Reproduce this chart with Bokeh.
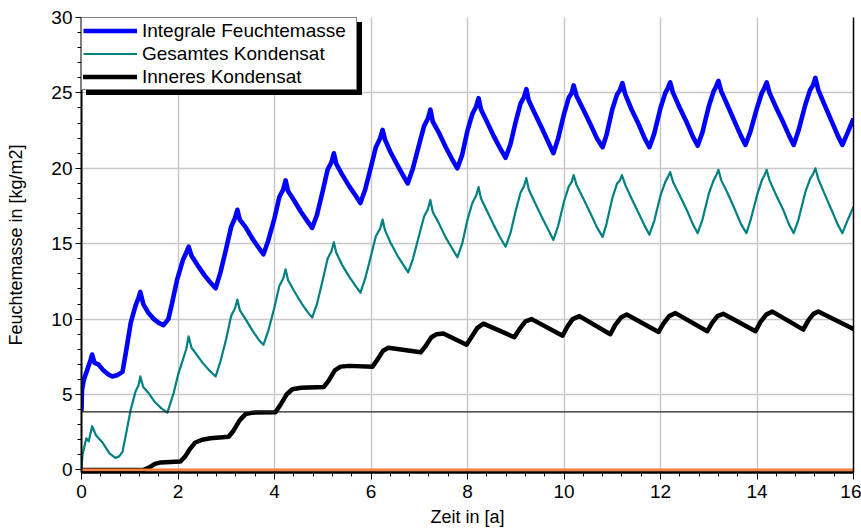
from bokeh.plotting import figure
from bokeh.models import (Range1d, LinearAxis, Legend, LegendItem, Span,
                          SingleIntervalTicker, FixedTicker)
from bokeh.embed import file_html
from bokeh.resources import INLINE

# ---- data ----
blue_t = [0, 0.01, 0.05, 0.12, 0.18, 0.22, 0.27, 0.35, 0.44, 0.55, 0.64, 0.75, 0.85, 0.92,
          1.02, 1.12, 1.18, 1.22, 1.28, 1.39, 1.5, 1.6, 1.7, 1.8, 1.88, 1.98, 2.1, 2.17, 2.22,
          2.28, 2.4, 2.55, 2.68, 2.78,
          2.88, 3.0, 3.1, 3.18, 3.23, 3.28, 3.4, 3.55, 3.68, 3.77,
          3.87, 4.0, 4.1, 4.18, 4.23, 4.28, 4.4, 4.55, 4.68, 4.78,
          4.88, 5.0, 5.1, 5.18, 5.23, 5.28, 5.4, 5.55, 5.68, 5.78,
          5.88, 6.0, 6.1, 6.19, 6.24, 6.29, 6.4, 6.55, 6.67, 6.76,
          6.86, 7.0, 7.1, 7.18, 7.23, 7.28, 7.4, 7.55, 7.68, 7.79,
          7.89, 8.0, 8.1, 8.18, 8.23, 8.28, 8.4, 8.55, 8.68, 8.79,
          8.89, 9.0, 9.1, 9.17, 9.22, 9.27, 9.4, 9.55, 9.68, 9.78,
          9.88, 10.0, 10.1, 10.16, 10.2, 10.26, 10.4, 10.55, 10.68, 10.8,
          10.88, 11.0, 11.1, 11.16, 11.21, 11.27, 11.4, 11.55, 11.67, 11.77,
          11.87, 12.0, 12.1, 12.15, 12.2, 12.26, 12.4, 12.55, 12.67, 12.77,
          12.87, 13.0, 13.1, 13.15, 13.2, 13.26, 13.4, 13.55, 13.66, 13.76,
          13.86, 14.0, 14.1, 14.15, 14.2, 14.26, 14.4, 14.55, 14.66, 14.76,
          14.86, 15.0, 15.1, 15.16, 15.21, 15.27, 15.4, 15.55, 15.67, 15.77,
          15.87, 16.0]
blue_v = [3.9, 5.3, 6.0, 6.65, 7.2, 7.65, 7.1, 7.0, 6.65, 6.35, 6.2, 6.3, 6.5, 7.8,
          9.75, 10.9, 11.4, 11.8, 11.0, 10.4, 10.0, 9.75, 9.6, 10.0, 11.1, 12.6, 13.9, 14.4, 14.8,
          14.2, 13.6, 12.9, 12.4, 12.05,
          13.1, 14.7, 16.1, 16.7, 17.25, 16.6, 16.1, 15.3, 14.7, 14.3,
          15.2, 16.7, 18.1, 18.6, 19.2, 18.5, 17.9, 17.1, 16.5, 16.05,
          16.9, 18.5, 19.9, 20.4, 21.0, 20.3, 19.6, 18.8, 18.2, 17.7,
          18.6, 20.1, 21.4, 22.0, 22.55, 21.9, 21.1, 20.2, 19.5, 19.0,
          19.9, 21.6, 22.8, 23.3, 23.9, 23.1, 22.4, 21.4, 20.6, 20.0,
          20.9, 22.5, 23.6, 24.1, 24.65, 23.9, 23.1, 22.1, 21.3, 20.7,
          21.6, 23.1, 24.3, 24.7, 25.25, 24.5, 23.6, 22.6, 21.7, 21.0,
          22.0, 23.6, 24.7, 25.0, 25.5, 24.8, 23.9, 22.9, 22.0, 21.4,
          22.2, 23.9, 24.9, 25.2, 25.65, 24.9, 23.9, 22.9, 22.0, 21.4,
          22.3, 24.0, 25.0, 25.3, 25.7, 25.0, 24.0, 23.0, 22.1, 21.5,
          22.4, 24.1, 25.1, 25.4, 25.8, 25.1, 24.1, 23.0, 22.2, 21.55,
          22.4, 24.0, 25.0, 25.3, 25.7, 25.0, 24.0, 23.0, 22.2, 21.55,
          22.5, 24.2, 25.2, 25.5, 26.0, 25.2, 24.2, 23.1, 22.2, 21.55,
          22.3, 23.3]

teal_t = [0, 0.02, 0.05, 0.1, 0.15, 0.22, 0.3, 0.44, 0.58, 0.7, 0.78, 0.85, 0.93,
          1.02, 1.12, 1.18, 1.22, 1.28, 1.39, 1.52, 1.65, 1.78, 1.85, 1.91, 2.0, 2.1, 2.17, 2.22,
          2.28, 2.4, 2.51, 2.65, 2.78,
          2.88, 3.0, 3.1, 3.18, 3.23, 3.28, 3.4, 3.55, 3.68, 3.77,
          3.87, 4.0, 4.1, 4.18, 4.23, 4.28, 4.4, 4.55, 4.68, 4.78,
          4.88, 5.0, 5.1, 5.18, 5.23, 5.28, 5.4, 5.55, 5.68, 5.78,
          5.88, 6.0, 6.1, 6.19, 6.24, 6.29, 6.4, 6.55, 6.67, 6.77,
          6.87, 7.0, 7.1, 7.18, 7.23, 7.28, 7.4, 7.55, 7.68, 7.79,
          7.89, 8.0, 8.1, 8.18, 8.23, 8.28, 8.4, 8.55, 8.68, 8.79,
          8.89, 9.0, 9.1, 9.17, 9.22, 9.27, 9.4, 9.55, 9.68, 9.78,
          9.88, 10.0, 10.1, 10.16, 10.2, 10.26, 10.4, 10.55, 10.68, 10.8,
          10.88, 11.0, 11.1, 11.16, 11.2, 11.27, 11.4, 11.55, 11.67, 11.77,
          11.87, 12.0, 12.1, 12.15, 12.2, 12.26, 12.4, 12.55, 12.67, 12.77,
          12.87, 13.0, 13.1, 13.15, 13.2, 13.26, 13.4, 13.55, 13.67, 13.78,
          13.87, 14.0, 14.1, 14.15, 14.2, 14.26, 14.4, 14.55, 14.66, 14.76,
          14.86, 15.0, 15.1, 15.16, 15.21, 15.27, 15.4, 15.55, 15.67, 15.77,
          15.87, 16.0]
teal_v = [0.0, 1.0, 1.4, 2.1, 1.9, 2.9, 2.3, 1.8, 1.1, 0.8, 0.9, 1.2, 2.5,
          4.0, 5.2, 5.6, 6.2, 5.5, 5.1, 4.5, 4.1, 3.8, 4.5, 5.1, 6.3, 7.3, 8.0, 8.85,
          8.1, 7.6, 7.1, 6.6, 6.2,
          7.2, 8.7, 10.2, 10.7, 11.3, 10.6, 10.0, 9.2, 8.6, 8.3,
          9.2, 10.8, 12.2, 12.7, 13.3, 12.6, 11.9, 11.1, 10.5, 10.1,
          11.0, 12.6, 14.0, 14.5, 15.1, 14.4, 13.6, 12.8, 12.2, 11.75,
          12.7, 14.2, 15.5, 16.0, 16.6, 15.9, 15.1, 14.2, 13.6, 13.1,
          14.0, 15.6, 16.8, 17.3, 17.9, 17.1, 16.4, 15.4, 14.7, 14.1,
          15.0, 16.6, 17.7, 18.2, 18.75, 18.0, 17.2, 16.2, 15.4, 14.8,
          15.7, 17.2, 18.4, 18.8, 19.35, 18.6, 17.7, 16.7, 15.9, 15.25,
          16.2, 17.8, 18.8, 19.1, 19.55, 18.9, 18.0, 17.0, 16.1, 15.45,
          16.3, 18.0, 19.0, 19.2, 19.55, 18.9, 18.0, 17.0, 16.2, 15.6,
          16.5, 18.2, 19.1, 19.4, 19.75, 19.1, 18.2, 17.2, 16.3, 15.7,
          16.6, 18.3, 19.2, 19.5, 19.9, 19.2, 18.3, 17.2, 16.3, 15.7,
          16.6, 18.2, 19.2, 19.5, 19.9, 19.2, 18.2, 17.2, 16.3, 15.7,
          16.6, 18.4, 19.3, 19.6, 20.0, 19.3, 18.3, 17.2, 16.3, 15.7,
          16.5, 17.45]

black_t = [0, 1.29, 1.4, 1.52, 1.64, 2.05, 2.15, 2.25, 2.35, 2.5, 2.67, 3.05, 3.15, 3.28, 3.4,
           3.55, 4.02, 4.12, 4.25, 4.37, 4.55, 5.02, 5.12, 5.25, 5.37, 5.55, 6.03, 6.13, 6.25,
           6.36, 7.03, 7.13, 7.25, 7.36, 7.5, 7.98, 8.08, 8.2, 8.33, 8.97, 9.07, 9.2, 9.33,
           9.97, 10.07, 10.18, 10.32, 10.96, 11.06, 11.18, 11.3, 11.96, 12.06, 12.18, 12.31,
           12.97, 13.07, 13.18, 13.3, 13.97, 14.07, 14.19, 14.32, 14.96, 15.06, 15.17, 15.27,
           16.0]
black_v = [0, 0, 0.15, 0.4, 0.5, 0.56, 0.9, 1.4, 1.8, 2.0, 2.1, 2.2, 2.6, 3.3, 3.7,
           3.8, 3.82, 4.3, 5.0, 5.35, 5.45, 5.5, 5.9, 6.6, 6.85, 6.9, 6.85, 7.3, 7.9,
           8.1, 7.8, 8.2, 8.8, 9.0, 9.05, 8.3, 8.8, 9.4, 9.7, 8.8, 9.3, 9.85, 10.0,
           8.9, 9.5, 10.0, 10.2, 9.0, 9.6, 10.1, 10.3, 9.15, 9.7, 10.2, 10.4,
           9.2, 9.75, 10.2, 10.35, 9.2, 9.8, 10.3, 10.5, 9.3, 9.9, 10.35, 10.5,
           9.35]

orange_t = [0, 16]
orange_v = [0, 0]

threshold = 3.85

labels = ["Integrale Feuchtemasse", "Gesamtes Kondensat", "Inneres Kondensat"]
x_label = "Zeit in [a]"
y_label = "Feuchtemasse in [kg/m2]"

FONT = "Liberation Sans"

p = figure(width=861, height=529, x_range=Range1d(0, 16), y_range=Range1d(-0.17, 30),
           output_backend="svg", toolbar_location=None,
           min_border_left=81, min_border_right=8, min_border_top=17, min_border_bottom=56)
p.outline_line_color = None
p.background_fill_color = "white"
p.border_fill_color = "white"

xt = SingleIntervalTicker(interval=2, num_minor_ticks=5)
yt = SingleIntervalTicker(interval=5, num_minor_ticks=5)
p.xaxis.ticker = xt
p.yaxis.ticker = yt
p.xgrid.ticker = xt
p.ygrid.ticker = yt
for g in (p.xgrid[0], p.ygrid[0]):
    g.grid_line_color = "#c8c8c8"
    g.grid_line_width = 1.5

for ax in (p.xaxis[0], p.yaxis[0]):
    ax.axis_line_color = "black"
    ax.major_tick_line_color = "black"
    ax.minor_tick_line_color = "black"
    ax.major_tick_in = 0
    ax.minor_tick_in = 0
    ax.major_label_text_font = FONT
    ax.major_label_text_font_size = "19px"
    ax.major_label_text_color = "black"
    ax.axis_label_text_font = FONT
    ax.axis_label_text_font_size = "18px"
    ax.axis_label_text_font_style = "normal"
    ax.axis_label_text_color = "black"

p.xaxis.axis_line_width = 2.5
p.xaxis.major_tick_out = 7
p.xaxis.minor_tick_out = 4
p.xaxis.major_label_standoff = 5
p.xaxis.axis_label_standoff = 6
p.xaxis.axis_label = x_label

p.yaxis.axis_line_width = 2
p.yaxis.major_tick_out = 6
p.yaxis.minor_tick_out = 4
p.yaxis.major_label_standoff = 3
p.yaxis.axis_label_standoff = 22
p.yaxis.axis_label = y_label

right = LinearAxis(ticker=FixedTicker(ticks=[]), axis_line_color="black", axis_line_width=1.5,
                   major_tick_out=0, minor_tick_out=0, major_label_text_font_size="0px",
                   major_label_standoff=0)
p.add_layout(right, "right")

p.add_layout(Span(location=threshold, dimension="width", line_color="#202020", line_width=1.2))

r_teal = p.line(teal_t, teal_v, line_color="#008080", line_width=2.2, line_join="round")
r_blue = p.line(blue_t, blue_v, line_color="#0000ff", line_width=4.6, line_join="round")
r_black = p.line(black_t, black_v, line_color="black", line_width=4.5, line_join="round",
                 line_cap="round")
r_orange = p.line(orange_t, orange_v, line_color="#ff8040", line_width=3)


def make_legend(margin, shadow):
    names = ["", "", ""] if shadow else labels
    items = [LegendItem(label=names[0], renderers=[r_blue]),
             LegendItem(label=names[1], renderers=[r_teal]),
             LegendItem(label=names[2], renderers=[r_black])]
    lg = Legend(items=items, location="top_left", margin=margin, padding=1, spacing=0,
                glyph_width=54, glyph_height=23, label_height=23, label_width=213,
                label_standoff=5, label_text_font=FONT, label_text_font_size="19px",
                label_text_color="black", border_line_color="black", border_line_width=1,
                background_fill_color="black" if shadow else "white",
                background_fill_alpha=1.0, click_policy="none")
    return lg


p.add_layout(make_legend(5, True))
p.add_layout(make_legend(0, False))

open("out.html", "w").write(file_html(p, INLINE))
